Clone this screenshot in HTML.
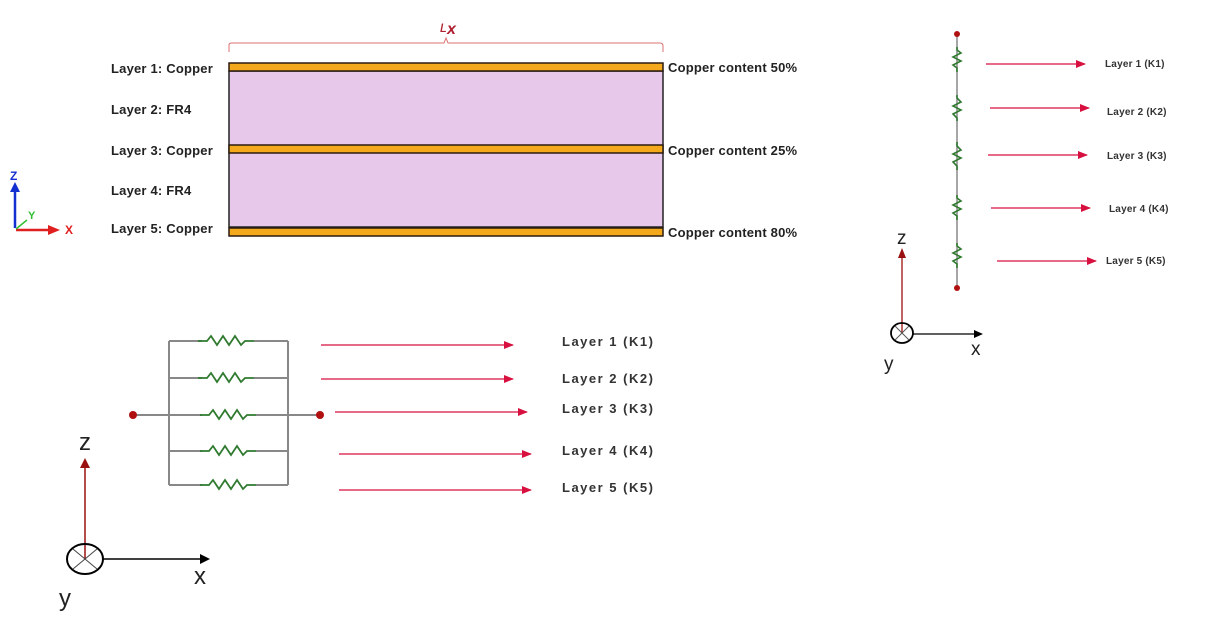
<!DOCTYPE html>
<html><head><meta charset="utf-8"><style>
html,body{margin:0;padding:0;background:#fff;}
svg{display:block;}
text{font-family:"Liberation Sans",Arial,sans-serif;}
</style></head><body>
<svg width="1207" height="618" viewBox="0 0 1207 618" xmlns="http://www.w3.org/2000/svg">
<defs>
<marker id="ar" markerWidth="10" markerHeight="8" refX="9" refY="4" orient="auto" markerUnits="userSpaceOnUse"><path d="M0,0 L10,4 L0,8 z" fill="#d81040"/></marker>
</defs>

<!-- Lx brace -->
<path d="M229,52 L229,45 Q229,43 232,43 L444,43 L446,38 L448,43 L660,43 Q663,43 663,46 L663,52" fill="none" stroke="#d87070" stroke-width="1"/>
<text x="440" y="32" font-size="16" font-style="italic" fill="#b02030" font-family="Liberation Serif,serif">ʟ</text>
<text x="447" y="34" font-size="16" font-style="italic" font-weight="bold" fill="#b02030">x</text>

<!-- stack -->
<rect x="229" y="71" width="434" height="156" fill="#e8c8ea" stroke="#222" stroke-width="1.5"/>
<rect x="229" y="63" width="434" height="8" fill="#f4a81c" stroke="#2a1a10" stroke-width="1.5"/>
<rect x="229" y="145" width="434" height="8" fill="#f4a81c" stroke="#2a1a10" stroke-width="1.5"/>
<rect x="229" y="228" width="434" height="8" fill="#f4a81c" stroke="#2a1a10" stroke-width="1.5"/>
<g font-size="13" font-weight="bold" fill="#222" letter-spacing="0.2">
<text x="111" y="73">Layer 1: Copper</text>
<text x="111" y="114">Layer 2: FR4</text>
<text x="111" y="155">Layer 3: Copper</text>
<text x="111" y="195">Layer 4: FR4</text>
<text x="111" y="233">Layer 5: Copper</text>
<text x="668" y="72">Copper content 50%</text>
<text x="668" y="155">Copper content 25%</text>
<text x="668" y="237">Copper content 80%</text>
</g>

<!-- small xyz triad -->
<line x1="15" y1="228" x2="15" y2="190" stroke="#1530d0" stroke-width="2.5"/>
<path d="M10,192 L15,182 L20,192 z" fill="#1530d0"/>
<line x1="16" y1="230" x2="50" y2="230" stroke="#e02020" stroke-width="2.5"/>
<path d="M48,225 L60,230 L48,235 z" fill="#e02020"/>
<line x1="16" y1="229" x2="27" y2="220" stroke="#30c030" stroke-width="1.5"/>
<text x="10" y="180" font-size="12" font-weight="bold" fill="#1530d0">Z</text>
<text x="28" y="219" font-size="11" font-weight="bold" fill="#30c030">Y</text>
<text x="65" y="234" font-size="12" font-weight="bold" fill="#e02020">X</text>

<!-- right series chain -->
<line x1="957" y1="34" x2="957" y2="288" stroke="#888" stroke-width="1.5"/>
<g fill="none" stroke="#2f7a2f" stroke-width="1.6">
<path d="M957,47 l0,3 l4,3 l-8,4 l8,4 l-8,4 l4,3 l0,4" />
<path d="M957,95 l0,3 l4,4 l-8,4 l8,4 l-8,4 l4,4 l0,3" />
<path d="M957,142 l0,4 l4,4 l-8,4 l8,4 l-8,4 l4,4 l0,4" />
<path d="M957,195 l0,3 l4,3 l-8,4 l8,4 l-8,4 l4,3 l0,4" />
<path d="M957,243 l0,3 l4,3 l-8,4 l8,4 l-8,4 l4,3 l0,4" />
</g>
<circle cx="957" cy="34" r="3" fill="#b01010"/>
<circle cx="957" cy="288" r="3" fill="#b01010"/>
<g stroke="#d81040" stroke-width="1.2" marker-end="url(#ar)">
<line x1="986" y1="64" x2="1085" y2="64"/>
<line x1="990" y1="108" x2="1089" y2="108"/>
<line x1="988" y1="155" x2="1087" y2="155"/>
<line x1="991" y1="208" x2="1090" y2="208"/>
<line x1="997" y1="261" x2="1096" y2="261"/>
</g>
<g font-size="10" font-weight="bold" fill="#333" letter-spacing="0.2">
<text x="1105" y="67">Layer 1 (K1)</text>
<text x="1107" y="115">Layer 2 (K2)</text>
<text x="1107" y="159">Layer 3 (K3)</text>
<text x="1109" y="212">Layer 4 (K4)</text>
<text x="1106" y="264">Layer 5 (K5)</text>
</g>
<!-- right axes -->
<line x1="902" y1="333" x2="902" y2="252" stroke="#9a1010" stroke-width="1.3"/>
<path d="M898,258 L902,248 L906,258 z" fill="#9a1010"/>
<line x1="913" y1="334" x2="976" y2="334" stroke="#000" stroke-width="1.2"/>
<path d="M974,330 L983,334 L974,338 z" fill="#000"/>
<ellipse cx="902" cy="333" rx="11" ry="10" fill="none" stroke="#000" stroke-width="1.8"/>
<line x1="895" y1="326" x2="909" y2="340" stroke="#555" stroke-width="1"/>
<line x1="909" y1="326" x2="895" y2="340" stroke="#555" stroke-width="1"/>
<text x="897" y="244" font-size="19" fill="#222">z</text>
<text x="971" y="355" font-size="19" fill="#222">x</text>
<text x="884" y="370" font-size="19" fill="#222">y</text>

<!-- left parallel network -->
<g stroke="#888" stroke-width="2" fill="none">
<line x1="169" y1="341" x2="169" y2="485"/>
<line x1="288" y1="341" x2="288" y2="485"/>
<line x1="169" y1="341" x2="202" y2="341"/><line x1="254" y1="341" x2="288" y2="341"/>
<line x1="169" y1="378" x2="202" y2="378"/><line x1="254" y1="378" x2="288" y2="378"/>
<line x1="133" y1="415" x2="202" y2="415"/><line x1="256" y1="415" x2="320" y2="415"/>
<line x1="169" y1="451" x2="202" y2="451"/><line x1="256" y1="451" x2="288" y2="451"/>
<line x1="169" y1="485" x2="202" y2="485"/><line x1="256" y1="485" x2="288" y2="485"/>
</g>
<g fill="none" stroke="#2f7a2f" stroke-width="1.8">
<path d="M198,341 l9,0 l4,-5 l6,9 l6,-9 l6,9 l6,-9 l6,9 l4,-4 l9,0"/>
<path d="M198,378 l9,0 l4,-5 l6,9 l6,-9 l6,9 l6,-9 l6,9 l4,-4 l9,0"/>
<path d="M200,415 l9,0 l4,-5 l6,9 l6,-9 l6,9 l6,-9 l6,9 l4,-4 l9,0"/>
<path d="M200,451 l9,0 l4,-5 l6,9 l6,-9 l6,9 l6,-9 l6,9 l4,-4 l9,0"/>
<path d="M200,485 l9,0 l4,-5 l6,9 l6,-9 l6,9 l6,-9 l6,9 l4,-4 l9,0"/>
</g>
<circle cx="133" cy="415" r="4" fill="#b01010"/>
<circle cx="320" cy="415" r="4" fill="#b01010"/>
<g stroke="#d81040" stroke-width="1.3" marker-end="url(#ar)">
<line x1="321" y1="345" x2="513" y2="345"/>
<line x1="321" y1="379" x2="513" y2="379"/>
<line x1="335" y1="412" x2="527" y2="412"/>
<line x1="339" y1="454" x2="531" y2="454"/>
<line x1="339" y1="490" x2="531" y2="490"/>
</g>
<g font-size="13" font-weight="bold" fill="#333" letter-spacing="1.5">
<text x="562" y="346">Layer 1 (K1)</text>
<text x="562" y="383">Layer 2 (K2)</text>
<text x="562" y="413">Layer 3 (K3)</text>
<text x="562" y="455">Layer 4 (K4)</text>
<text x="562" y="492">Layer 5 (K5)</text>
</g>

<!-- bottom axes -->
<line x1="85" y1="559" x2="85" y2="466" stroke="#9a1010" stroke-width="1.5"/>
<path d="M80,468 L85,458 L90,468 z" fill="#9a1010"/>
<line x1="103" y1="559" x2="202" y2="559" stroke="#000" stroke-width="1.5"/>
<path d="M200,554 L210,559 L200,564 z" fill="#000"/>
<ellipse cx="85" cy="559" rx="18" ry="15" fill="none" stroke="#000" stroke-width="2"/>
<line x1="73" y1="549" x2="97" y2="569" stroke="#444" stroke-width="1"/>
<line x1="97" y1="549" x2="73" y2="569" stroke="#444" stroke-width="1"/>
<text x="79" y="450" font-size="24" fill="#222">z</text>
<text x="194" y="584" font-size="24" fill="#222">x</text>
<text x="59" y="606" font-size="24" fill="#222">y</text>
</svg>
</body></html>
